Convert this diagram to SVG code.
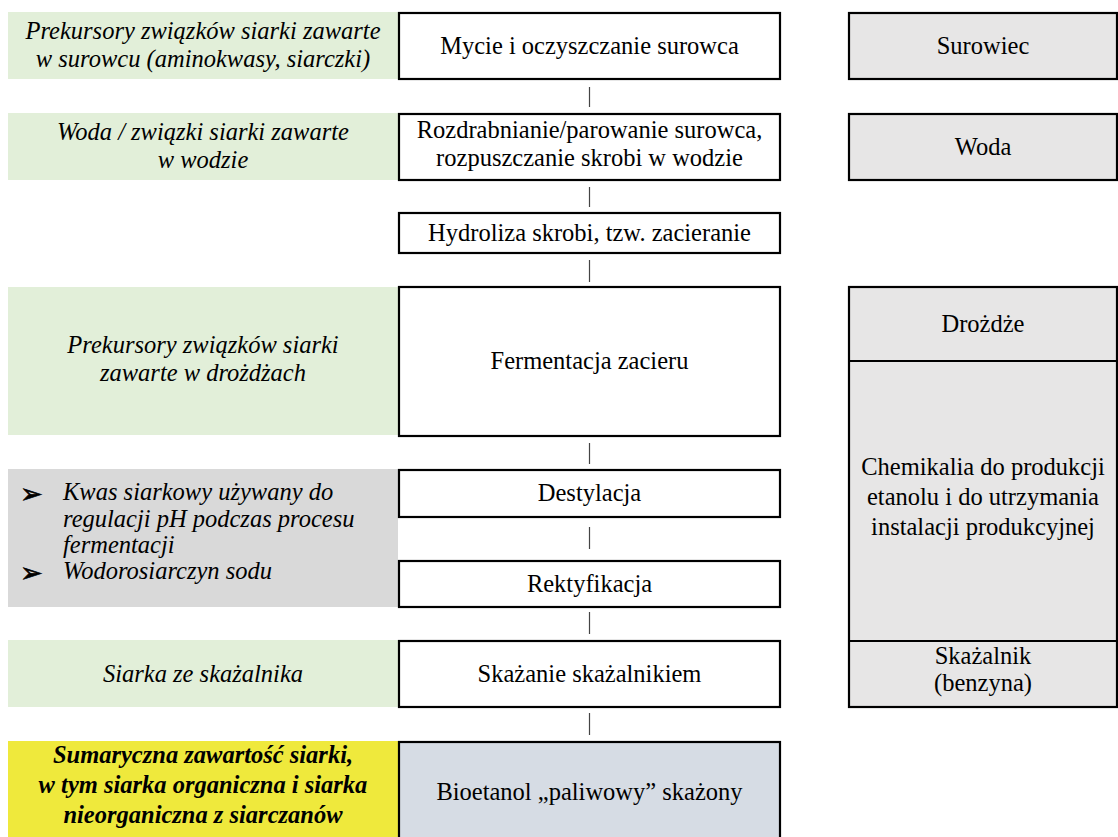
<svg xmlns="http://www.w3.org/2000/svg" width="1118" height="837" viewBox="0 0 1118 837">
<style>
.t{font-family:"Liberation Serif","Times New Roman",serif;font-size:24.5px;fill:#000;text-anchor:middle}
.i{font-style:italic}
.b{font-weight:bold}
.l{text-anchor:start}
.box{stroke:#000;stroke-width:2.2}
.proc{fill:#fff}
.res{fill:#e7e6e6}
.green{fill:#e2efd9}
.gray{fill:#d9d9d9}
.yellow{fill:#efe93c}
.final{fill:#d6dce4}
.con{stroke:#444;stroke-width:1.2}
.bul{font-family:"DejaVu Sans",sans-serif;font-size:27px;fill:#000;stroke:#000;stroke-width:0.7}
</style>
<rect width="1118" height="837" fill="#fff"/>
<g id="src1"><rect class="green" x="8" y="12" width="390" height="67"/><text class="t i" x="203" y="39">Prekursory związków siarki zawarte</text><text class="t i" x="203" y="67">w surowcu (aminokwasy, siarczki)</text></g>
<g id="src2"><rect class="green" x="8" y="113" width="390" height="67"/><text class="t i" x="203" y="140">Woda / związki siarki zawarte</text><text class="t i" x="203" y="168">w wodzie</text></g>
<g id="src3"><rect class="green" x="8" y="287" width="390" height="148"/><text class="t i" x="203" y="353">Prekursory związków siarki</text><text class="t i" x="203" y="381">zawarte w drożdżach</text></g>
<g id="src4"><rect class="gray" x="8" y="469" width="390" height="138"/>
<text class="bul" x="20" y="503">➢</text><text class="t i l" x="63" y="500">Kwas siarkowy używany do</text>
<text class="t i l" x="63" y="527">regulacji pH podczas procesu</text>
<text class="t i l" x="63" y="553">fermentacji</text>
<text class="bul" x="20" y="582">➢</text><text class="t i l" x="63" y="579">Wodorosiarczyn sodu</text></g>
<g id="src5"><rect class="green" x="8" y="640" width="390" height="67"/><text class="t i" x="203" y="682">Siarka ze skażalnika</text></g>
<g id="sum"><rect class="yellow" x="8" y="741" width="390" height="100"/><text class="t i b" x="203" y="763">Sumaryczna zawartość siarki,</text><text class="t i b" x="203" y="793">w tym siarka organiczna i siarka</text><text class="t i b" x="203" y="823">nieorganiczna z siarczanów</text></g>

<g id="p1"><rect class="box proc" x="399" y="13" width="381" height="66"/><text class="t" x="589.5" y="54">Mycie i oczyszczanie surowca</text></g>
<g id="p2"><rect class="box proc" x="399" y="114" width="381" height="66"/><text class="t" x="589.5" y="138">Rozdrabnianie/parowanie surowca,</text><text class="t" x="589.5" y="166">rozpuszczanie skrobi w wodzie</text></g>
<g id="p3"><rect class="box proc" x="399" y="213" width="381" height="40"/><text class="t" x="589.5" y="241">Hydroliza skrobi, tzw. zacieranie</text></g>
<g id="p4"><rect class="box proc" x="399" y="287" width="381" height="149"/><text class="t" x="589.5" y="369">Fermentacja zacieru</text></g>
<g id="p5"><rect class="box proc" x="399" y="470" width="381" height="47"/><text class="t" x="589.5" y="501">Destylacja</text></g>
<g id="p6"><rect class="box proc" x="399" y="561" width="381" height="46"/><text class="t" x="589.5" y="592">Rektyfikacja</text></g>
<g id="p7"><rect class="box proc" x="399" y="641" width="381" height="66"/><text class="t" x="589.5" y="682">Skażanie skażalnikiem</text></g>
<g id="p8"><rect class="box final" x="399" y="742" width="381" height="120"/><text class="t" x="589.5" y="800">Bioetanol „paliwowy” skażony</text></g>

<g id="r1"><rect class="box res" x="849" y="13" width="268" height="66"/><text class="t" x="983" y="54">Surowiec</text></g>
<g id="r2"><rect class="box res" x="849" y="114" width="268" height="66"/><text class="t" x="983" y="155">Woda</text></g>
<g id="r3"><rect class="box res" x="849" y="287" width="268" height="420"/>
<line class="box" x1="849" y1="361" x2="1117" y2="361"/>
<line class="box" x1="849" y1="641" x2="1117" y2="641"/>
<text class="t" x="983" y="332">Drożdże</text>
<text class="t" x="983" y="475">Chemikalia do produkcji</text>
<text class="t" x="983" y="505">etanolu i do utrzymania</text>
<text class="t" x="983" y="535">instalacji produkcyjnej</text>
<text class="t" x="983" y="664">Skażalnik</text>
<text class="t" x="983" y="691">(benzyna)</text></g>

<g id="connectors">
<line class="con" x1="589.5" y1="87" x2="589.5" y2="107"/>
<line class="con" x1="589.5" y1="187" x2="589.5" y2="207"/>
<line class="con" x1="589.5" y1="260" x2="589.5" y2="282"/>
<line class="con" x1="589.5" y1="443" x2="589.5" y2="464"/>
<line class="con" x1="589.5" y1="527" x2="589.5" y2="549"/>
<line class="con" x1="589.5" y1="612" x2="589.5" y2="634"/>
<line class="con" x1="589.5" y1="713" x2="589.5" y2="735"/>
</g>
</svg>
